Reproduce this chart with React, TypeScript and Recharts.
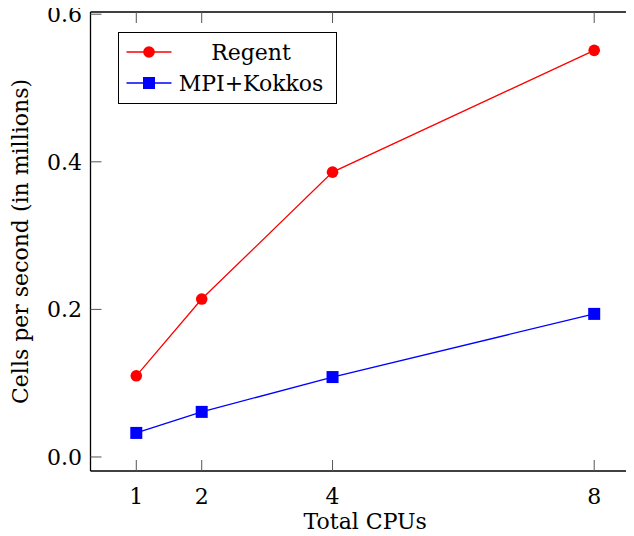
// App.tsx — Regent vs MPI+Kokkos throughput, pgfplots look (box axes, inward ticks).
import { Label, Legend, Line, LineChart, XAxis, YAxis } from "recharts";

const FONT = "DejaVu Serif, Liberation Serif, serif";
const FS = 22;
const TICK_LEN = 11;
const TICK_STROKE = "#555";
const txt = { fontFamily: FONT, fontSize: FS };

const cpus = [1, 2, 4, 8];
const regent = [0.11, 0.214, 0.386, 0.551];
const mpiKokkos = [0.0326, 0.0611, 0.1083, 0.1939];
const xTicks = [1, 2, 4, 8];
const yTicks = [0, 0.2, 0.4, 0.6];
const xDomain = [0.3, 8.7];
const yDomain = [-0.019, 0.603];
const seriesOrder = ["regent", "mpi"];

const data = cpus.map((c, i) => ({ cpus: c, regent: regent[i], mpi: mpiKokkos[i] }));

const RED = "#ff0000";
const BLUE = "#0000ff";

function BottomTick(p: any) {
  return (
    <g>
      <line x1={p.x} y1={p.y} x2={p.x} y2={p.y - TICK_LEN} stroke={TICK_STROKE} />
      <text x={p.x} y={p.y + 33} textAnchor="middle" style={txt} fill="#000">
        {p.payload.value}
      </text>
    </g>
  );
}

function TopTick(p: any) {
  return <line x1={p.x} y1={p.y} x2={p.x} y2={p.y + TICK_LEN} stroke={TICK_STROKE} />;
}

function LeftTick(p: any) {
  return (
    <g>
      <line x1={p.x} y1={p.y} x2={p.x + TICK_LEN} y2={p.y} stroke={TICK_STROKE} />
      <text x={p.x - 8.5} y={p.y} dy="0.36em" textAnchor="end" style={txt} fill="#000">
        {Number(p.payload.value).toFixed(1)}
      </text>
    </g>
  );
}

function RightTick(p: any) {
  return <line x1={p.x} y1={p.y} x2={p.x - TICK_LEN} y2={p.y} stroke={TICK_STROKE} />;
}

function Circle({ cx, cy, color }: { cx: number; cy: number; color: string }) {
  return <circle cx={cx} cy={cy} r={5.8} fill={color} stroke="none" />;
}

function Square({ cx, cy, color }: { cx: number; cy: number; color: string }) {
  return <rect x={cx - 6} y={cy - 6} width={12} height={12} fill={color} stroke="none" />;
}

function LegendBox({ payload }: any) {
  const items = [...(payload || [])].sort(
    (a: any, b: any) => seriesOrder.indexOf(a.dataKey) - seriesOrder.indexOf(b.dataKey)
  );
  return (
    <svg width={219} height={72} style={{ display: "block" }}>
      <rect x={0.5} y={0.5} width={218} height={71} fill="#fff" stroke="#000" strokeWidth={1} />
      {items.map((item: any, i: number) => {
        const cy = 20 + i * 31;
        return (
          <g key={item.value}>
            <line x1={8.5} x2={53.5} y1={cy} y2={cy} stroke={item.color} strokeWidth={1.3} />
            {item.dataKey === "regent" ? (
              <Circle cx={31} cy={cy} color={item.color} />
            ) : (
              <Square cx={31} cy={cy} color={item.color} />
            )}
            <text x={133} y={cy} dy="0.36em" textAnchor="middle" style={txt} fill="#000">
              {item.value}
            </text>
          </g>
        );
      })}
    </svg>
  );
}

export default function App() {
  return (
    <div style={{ width: 626, height: 528, overflow: "hidden" }}>
      <LineChart width={660} height={528} data={data} margin={{ top: 3, right: 27, bottom: 5, left: 0 }}>
        <XAxis
          dataKey="cpus"
          type="number"
          domain={xDomain}
          ticks={xTicks}
          interval={0}
          allowDataOverflow
          height={60}
          tickSize={0}
          tickMargin={0}
          tickLine={false}
          tick={BottomTick}
          axisLine={{ stroke: "#000", strokeWidth: 1.3 }}
        >
          <Label
            content={({ viewBox }: any) => (
              <text
                x={viewBox.x + viewBox.width / 2}
                y={viewBox.y + 58}
                textAnchor="middle"
                style={txt}
                fill="#000"
              >
                Total CPUs
              </text>
            )}
          />
        </XAxis>
        <XAxis
          xAxisId="top"
          orientation="top"
          dataKey="cpus"
          type="number"
          domain={xDomain}
          ticks={xTicks}
          interval={0}
          allowDataOverflow
          height={1}
          tickSize={0}
          tickMargin={0}
          tickLine={false}
          tick={TopTick}
          axisLine={{ stroke: "#000", strokeWidth: 1.3 }}
        />
        <YAxis
          type="number"
          domain={yDomain}
          ticks={yTicks}
          interval={0}
          allowDataOverflow
          width={82.5}
          tickSize={0}
          tickMargin={0}
          tickLine={false}
          tick={LeftTick}
          axisLine={{ stroke: "#000", strokeWidth: 1.3 }}
        >
          <Label
            content={({ viewBox }: any) => {
              const cy = viewBox.y + viewBox.height / 2;
              return (
                <text
                  x={20}
                  y={cy}
                  transform={`rotate(-90, 20, ${cy})`}
                  textAnchor="middle"
                  style={txt}
                  fill="#000"
                >
                  Cells per second (in millions)
                </text>
              );
            }}
          />
        </YAxis>
        <YAxis
          yAxisId="right"
          orientation="right"
          type="number"
          domain={yDomain}
          ticks={yTicks}
          interval={0}
          allowDataOverflow
          width={1}
          tickSize={0}
          tickMargin={0}
          tickLine={false}
          tick={RightTick}
          axisLine={{ stroke: "#000", strokeWidth: 1.3 }}
        />
        <Legend
          layout="vertical"
          align="center"
          verticalAlign="middle"
          content={LegendBox}
          wrapperStyle={{ position: "absolute", left: 110, top: 24, width: 219, height: 72 }}
        />
        <Line
          dataKey="regent"
          name="Regent"
          stroke={RED}
          strokeWidth={1.3}
          isAnimationActive={false}
          dot={(p: any) => <Circle key={`r${p.index}`} cx={p.cx} cy={p.cy} color={RED} />}
          activeDot={false}
        />
        <Line
          dataKey="mpi"
          name="MPI+Kokkos"
          stroke={BLUE}
          strokeWidth={1.3}
          isAnimationActive={false}
          dot={(p: any) => <Square key={`m${p.index}`} cx={p.cx} cy={p.cy} color={BLUE} />}
          activeDot={false}
        />
      </LineChart>
    </div>
  );
}
